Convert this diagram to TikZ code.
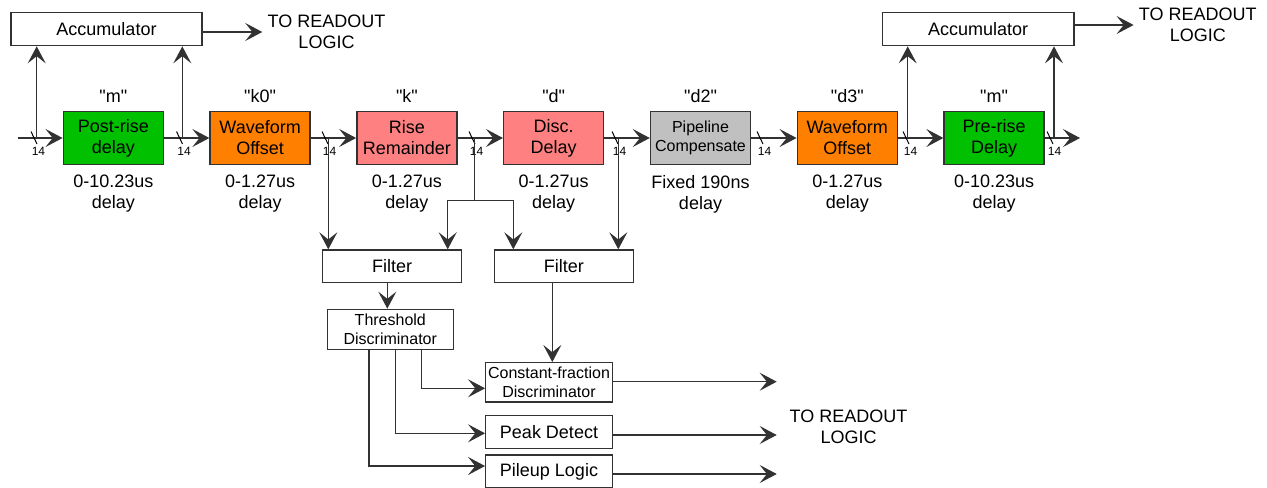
\documentclass[tikz,border=0pt]{standalone}
\usepackage{fontspec}
\setmainfont{Liberation Sans}[Ligatures=TeXOff]
\usetikzlibrary{arrows.meta, positioning, calc}
\definecolor{DlyGreen}{RGB}{0, 192, 0}
\definecolor{DlyOrange}{RGB}{255, 128, 0}
\definecolor{DlyPink}{RGB}{255, 128, 128}
\definecolor{DlyGrey}{RGB}{192, 192, 192}
\definecolor{LineGrey}{RGB}{50, 50, 50}

\begin{document}
\begin{tikzpicture}[
  x=0.5pt, y=-0.5pt,
  node distance=22.65pt,
  font=\fontsize{9}{10.5}\selectfont,
  stage/.style={
    rectangle, draw=LineGrey, line width=0.75pt,
    minimum width=50pt, minimum height=26.5pt,
    inner xsep=1pt, inner ysep=0pt, align=center
  },
  blk/.style={rectangle, draw=LineGrey, line width=0.65pt, fill=white, inner sep=0pt, align=center},
  small/.style={font=\fontsize{8}{9.2}\selectfont},
  tag/.style={inner sep=0pt},
  note/.style={inner sep=0pt, align=center},
  arrow/.style={-{Stealth[length=8.5pt, width=9pt, inset=3.6pt]}, line width=0.6pt, draw=LineGrey},
  wire/.style={line width=0.6pt, draw=LineGrey},
  bus/.style={line width=0.5pt, draw=black},
  buswidth/.style={inner sep=0pt, font=\fontsize{6}{6}\selectfont},
]
\useasboundingbox (0,0) rectangle (1267,487);

% delay chain
\node[stage, fill=DlyGreen] (postrise) at (113.3,138) {Post-rise\\delay};
\node[stage, fill=DlyOrange, right=of postrise] (offset1) {Waveform\\Offset};
\node[stage, fill=DlyPink, right=of offset1] (rise) {Rise\\Remainder};
\node[stage, fill=DlyPink, right=of rise] (disc) {Disc.\\Delay};
\node[stage, fill=DlyGrey, small, right=of disc] (pipe) {Pipeline\\Compensate};
\node[stage, fill=DlyOrange, right=of pipe] (offset2) {Waveform\\Offset};
\node[stage, fill=DlyGreen, right=of offset2] (prerise) {Pre-rise\\Delay};

\node[tag, above=3.85pt of postrise] (postrise-tag) {"m"};
\node[tag, above=3.85pt of offset1] (offset1-tag) {"k0"};
\node[tag, above=3.85pt of rise] (rise-tag) {"k"};
\node[tag, above=3.85pt of disc] (disc-tag) {"d"};
\node[tag, above=3.85pt of pipe] (pipe-tag) {"d2"};
\node[tag, above=3.85pt of offset2] (offset2-tag) {"d3"};
\node[tag, above=3.85pt of prerise] (prerise-tag) {"m"};

\node[note, below=4.85pt of postrise] (postrise-dly) {0-10.23us\\delay};
\node[note, below=4.85pt of offset1] (offset1-dly) {0-1.27us\\delay};
\node[note, below=4.85pt of rise] (rise-dly) {0-1.27us\\delay};
\node[note, below=4.85pt of disc] (disc-dly) {0-1.27us\\delay};
\node[note, below=4.85pt of pipe] (pipe-dly) {Fixed 190ns\\delay};
\node[note, below=4.85pt of offset2] (offset2-dly) {0-1.27us\\delay};
\node[note, below=4.85pt of prerise] (prerise-dly) {0-10.23us\\delay};

\coordinate (in) at (17.7,138);
\coordinate (out) at (1080,138);
\draw[arrow] (in) -- (postrise);
\draw[arrow] (postrise) -- (offset1);
\draw[arrow] (offset1) -- (rise);
\draw[arrow] (rise) -- (disc);
\draw[arrow] (disc) -- (pipe);
\draw[arrow] (pipe) -- (offset2);
\draw[arrow] (offset2) -- (prerise);
\draw[arrow] (prerise) -- (out);

% bus width marks
\foreach \x [count=\i] in {34,179.5,325,472,615,760,906,1050}{
  \draw[bus] (\x-3,131.5) -- (\x+3,144);
  \node[buswidth] (bw\i) at (\x+4.5,151) {14};
}

% taps off the chain
\coordinate (tap1) at (36.7,138);
\coordinate (tap2) at (182.3,138);
\coordinate (tap3) at (328.3,138);
\coordinate (tap4) at (474.3,138);
\coordinate (tap5) at (618.3,138);
\coordinate (tap6) at (907.7,138);
\coordinate (tap7) at (1054,138);

% accumulators
\node[blk, minimum width=95.5pt, minimum height=16.5pt] (acc1) at (106.5,29.2) {Accumulator};
\node[blk, minimum width=95.8pt, minimum height=16.5pt] (acc2) at (978.2,29.2) {Accumulator};
\node[note] (readout1) at (326.5,31.5) {TO READOUT\\LOGIC};
\node[note] (readout2) at (1197.8,24.5) {TO READOUT\\LOGIC};

\draw[arrow] (tap1) -- (tap1 |- acc1.south);
\draw[arrow] (tap2) -- (tap2 |- acc1.south);
\draw[arrow] (tap6) -- (tap6 |- acc2.south);
\draw[arrow] (tap7) -- (tap7 |- acc2.south);
\draw[arrow, shorten >=2.5pt] ([yshift=-1.4pt]acc1.east) -- ([yshift=-1.4pt]acc1.east -| readout1.west);
\draw[arrow, shorten >=2.5pt] ([yshift=2.1pt]acc2.east) -- ([yshift=2.1pt]acc2.east -| readout2.west);

% filters and discriminators
\node[blk, minimum width=69.5pt, minimum height=16.35pt] (filter1) at (392.2,266.3) {Filter};
\node[blk, minimum width=69.5pt, minimum height=16.35pt] (filter2) at (563.8,266.3) {Filter};
\node[blk, small, minimum width=63pt, minimum height=20pt] (thresh) at (390.3,329.3) {Threshold\\Discriminator};
\node[blk, small, minimum width=63.3pt, minimum height=19.65pt] (cfd) at (549,382.3) {Constant-fraction\\Discriminator};
\node[blk, minimum width=63.3pt, minimum height=16.3pt] (peak) at (549,432) {Peak Detect};
\node[blk, minimum width=63.3pt, minimum height=16.5pt] (pileup) at (549,471.5) {Pileup Logic};

\coordinate (split) at (474.3,200.7);
\coordinate (splitL) at (447.7,200.7);
\coordinate (splitR) at (513.3,200.7);
\draw[arrow] (tap3) -- (tap3 |- filter1.north);
\draw[wire] (tap4) -- (split);
\draw[arrow] (split) -- (splitL) -- (splitL |- filter1.north);
\draw[arrow] (split) -- (splitR) -- (splitR |- filter2.north);
\draw[arrow] (tap5) -- (tap5 |- filter2.north);

\draw[arrow] ([xshift=-2.45pt]filter1.south) -- ([xshift=-2.45pt]filter1.south |- thresh.north);
\draw[arrow] ([xshift=1.65pt]cfd.north |- filter2.south) -- ([xshift=1.65pt]cfd.north);

\draw[arrow] ([xshift=15.7pt]thresh.south) |- ([yshift=-3pt]cfd.west);
\draw[arrow] ([xshift=2.7pt]thresh.south) |- ([yshift=-0.65pt]peak.west);
\draw[arrow] ([xshift=-10.65pt]thresh.south) |- ([yshift=2.75pt]pileup.west);

% outputs
\coordinate (cfd-out) at (776.7,381.7);
\coordinate (peak-out) at (776.7,435);
\coordinate (pile-out) at (776.7,474);
\draw[arrow] (cfd.east |- cfd-out) -- (cfd-out);
\draw[arrow] (peak.east |- peak-out) -- (peak-out);
\draw[arrow] (pileup.east |- pile-out) -- (pile-out);
\node[note] (readout3) at (848.5,426.5) {TO READOUT\\LOGIC};
\end{tikzpicture}
\end{document}
